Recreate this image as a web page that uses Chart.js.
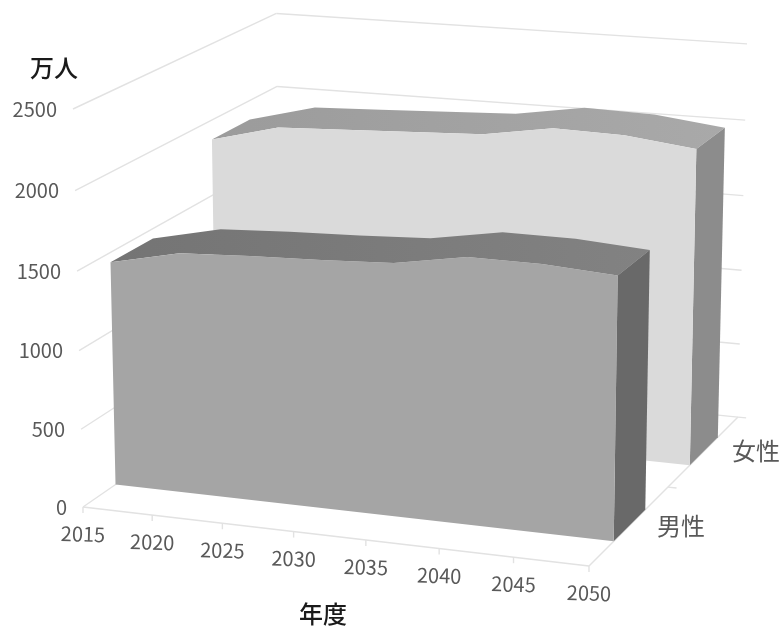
<!DOCTYPE html>
<html lang="ja">
<head>
<meta charset="utf-8">
<title>年度別 人口</title>
<script src="https://cdn.jsdelivr.net/npm/chart.js@4"></script>
<style>
  html, body { margin: 0; padding: 0; background: #fff; }
  canvas { display: block; }
</style>
</head>
<body>
<canvas id="populationChart" width="782" height="628"></canvas>
<script>
const years = [2015, 2020, 2025, 2030, 2035, 2040, 2045, 2050];
const maleValues = [1437, 1535, 1557, 1572, 1593, 1669, 1667, 1637];
const femaleValues = [1872, 1985, 2004, 2023, 2042, 2114, 2103, 2050];
const seriesLabels = ['男性', '女性'];
const valueTitle = '万人';
const yearTitle = '年度';

// perspective box: where the corners of the unit cube land on the canvas
const origin = [83, 507];
const xEnd = [589, 566];
const yEnd = [73, 109];
const zEnd = [280, 371];
const persp = [-0.0494, -0.0292, 0.1209];

function axisVector(end, k) {
    return [end[0] * (1 + k) - origin[0], end[1] * (1 + k) - origin[1]];
}
const ax = axisVector(xEnd, persp[0]);
const ay = axisVector(yEnd, persp[1]);
const az = axisVector(zEnd, persp[2]);

function project(u, v, w) {
    const d = 1 + persp[0] * u + persp[1] * v + persp[2] * w;
    return [
        (origin[0] + ax[0] * u + ay[0] * v + az[0] * w) / d,
        (origin[1] + ax[1] * u + ay[1] * v + az[1] * w) / d
    ];
}

function polygon(ctx, pts, fill) {
    ctx.beginPath();
    pts.forEach((p, i) => i ? ctx.lineTo(p[0], p[1]) : ctx.moveTo(p[0], p[1]));
    ctx.closePath();
    ctx.fillStyle = fill;
    ctx.fill();
}

function segment(ctx, a, b) {
    ctx.beginPath();
    ctx.moveTo(a[0], a[1]);
    ctx.lineTo(b[0], b[1]);
    ctx.stroke();
}

// depth slots of each ribbon, front to back
const ribbons = [
    { near: 0.15, far: 0.35, front: '#a5a5a5', side: '#696969', topFrom: '#747474', topTo: '#828282' },
    { near: 0.65, far: 0.85, front: '#dadada', side: '#8c8c8c', topFrom: '#9b9b9b', topTo: '#a9a9a9' }
];

const box3d = {
    id: 'box3d',
    beforeDatasetsDraw(chart) {
        const ctx = chart.ctx;
        const area = chart.chartArea;
        const yScale = chart.scales.y;
        const xScale = chart.scales.x;
        const toU = px => (px - area.left) / area.width;
        const toV = px => (area.bottom - px) / area.height;

        ctx.save();
        ctx.lineWidth = 1.4;
        ctx.strokeStyle = '#e2e2e2';

        // walls
        yScale.ticks.forEach(t => {
            const v = toV(yScale.getPixelForValue(t.value));
            segment(ctx, project(0, v, 0), project(0, v, 1));
            segment(ctx, project(0, v, 1), project(1, v, 1));
        });
        // floor
        segment(ctx, project(0, 0, 0), project(1, 0, 0));
        segment(ctx, project(1, 0, 0), project(1, 0, 1));
        segment(ctx, project(1, 0, 1), project(1.017, 0, 1));
        segment(ctx, project(1, 0, 0.5), project(1.017, 0, 0.5));

        // tick marks under the front edge
        years.forEach((yr, i) => {
            const u = toU(xScale.getPixelForValue(i));
            const p = project(u, 0, 0);
            segment(ctx, p, [p[0], p[1] + 6]);
        });

        // ribbons are painted back to front
        for (let s = chart.data.datasets.length - 1; s >= 0; s--) {
            const pts = chart.getDatasetMeta(s).data;
            const r = ribbons[s];
            const us = pts.map(p => toU(p.x));
            const vs = pts.map(p => toV(p.y));
            const last = pts.length - 1;

            const nearTop = us.map((u, i) => project(u, vs[i], r.near));
            const farTop = us.map((u, i) => project(u, vs[i], r.far));

            const grad = ctx.createLinearGradient(nearTop[0][0], 0, farTop[last][0], 0);
            grad.addColorStop(0, r.topFrom);
            grad.addColorStop(1, r.topTo);
            polygon(ctx, nearTop.concat(farTop.slice().reverse()), grad);

            polygon(ctx, [
                nearTop[last], farTop[last],
                project(us[last], 0, r.far), project(us[last], 0, r.near)
            ], r.side);

            polygon(ctx, nearTop.concat([project(us[last], 0, r.near), project(us[0], 0, r.near)]), r.front);
        }

        // axis text
        ctx.fillStyle = '#595959';
        ctx.font = '20px "Noto Sans CJK JP"';
        ctx.textBaseline = 'middle';
        ctx.textAlign = 'right';
        yScale.ticks.forEach(t => {
            const p = project(0, toV(yScale.getPixelForValue(t.value)), 0);
            ctx.fillText(String(t.value), p[0] - 16, p[1]);
        });
        ctx.textAlign = 'center';
        years.forEach((yr, i) => {
            const p = project(toU(xScale.getPixelForValue(i)), 0, 0);
            ctx.save();
            ctx.translate(p[0], p[1] + 27);
            ctx.rotate(0.03);
            ctx.fillText(String(yr), 0, 0);
            ctx.restore();
        });

        ctx.font = '24px "Noto Sans CJK JP"';
        ctx.fillText(seriesLabels[0], 681, 526);
        ctx.fillText(seriesLabels[1], 756, 451);

        ctx.fillStyle = '#1a1a1a';
        ctx.font = '500 24px "Noto Sans CJK JP"';
        ctx.fillText(valueTitle, 54, 68);
        ctx.fillText(yearTitle, 323, 614);
        ctx.restore();
    }
};

new Chart(document.getElementById('populationChart').getContext('2d'), {
    type: 'line',
    data: {
        labels: years,
        datasets: [
            { label: seriesLabels[0], data: maleValues, showLine: false, pointRadius: 0 },
            { label: seriesLabels[1], data: femaleValues, showLine: false, pointRadius: 0 }
        ]
    },
    options: {
        responsive: false,
        animation: false,
        layout: { padding: 0 },
        plugins: { legend: { display: false }, tooltip: { enabled: false } },
        scales: {
            x: { display: false, offset: false },
            y: { display: false, min: 0, max: 2500, ticks: { stepSize: 500 } }
        }
    },
    plugins: [box3d]
});
</script>
</body>
</html>
